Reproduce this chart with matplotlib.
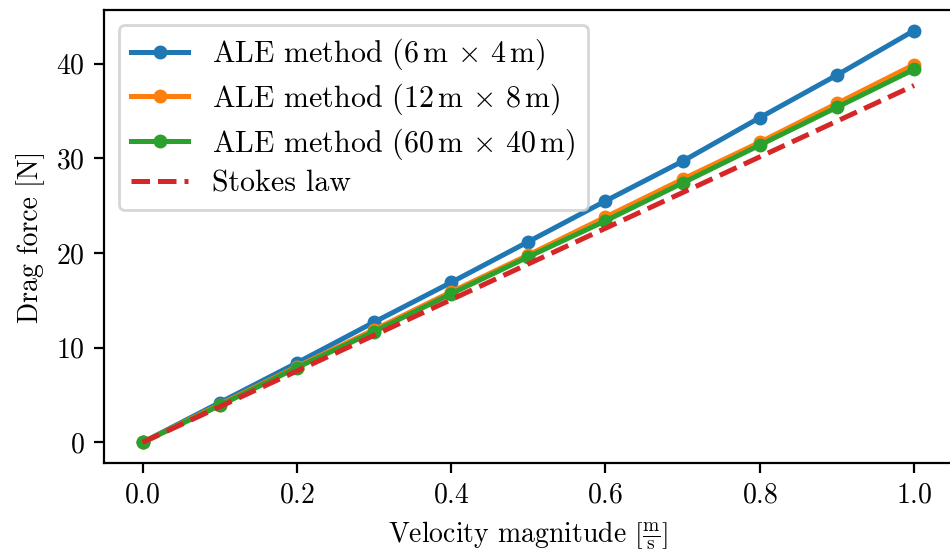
import matplotlib
matplotlib.use("Agg")
import matplotlib.pyplot as plt

plt.rcParams["font.family"] = "serif"
plt.rcParams["font.serif"] = ["cmr10"]
plt.rcParams["mathtext.fontset"] = "cm"
plt.rcParams["axes.formatter.use_mathtext"] = True
plt.rcParams["font.size"] = 10
plt.rcParams["lines.linewidth"] = 1.8

velocity = [0.0, 0.1, 0.2, 0.3, 0.4, 0.5, 0.6, 0.7, 0.8, 0.9, 1.0]
force_small = [0.0, 4.2, 8.4, 12.7, 16.9, 21.2, 25.5, 29.7, 34.3, 38.8, 43.5]
force_medium = [0.0, 4.0, 8.0, 11.9, 15.9, 19.8, 23.8, 27.8, 31.7, 35.8, 39.9]
force_large = [0.0, 3.9, 7.9, 11.7, 15.7, 19.6, 23.4, 27.4, 31.4, 35.4, 39.4]
stokes_v = [0.0, 1.0]
stokes_f = [0.0, 37.7]

fig = plt.figure(figsize=(4.75, 2.79), dpi=200)
# right spine sits just outside the picture in the reference
ax = fig.add_axes([104 / 950, 1 - 463 / 558, 848.6 / 950, 453 / 558])

ax.plot(velocity, force_small, "o-", ms=4,
        label=r"ALE method $(6\,\mathrm{m}\,\times\,4\,\mathrm{m})$")
ax.plot(velocity, force_medium, "o-", ms=4,
        label=r"ALE method $(12\,\mathrm{m}\,\times\,8\,\mathrm{m})$")
ax.plot(velocity, force_large, "o-", ms=4,
        label=r"ALE method $(60\,\mathrm{m}\,\times\,40\,\mathrm{m})$")
ax.plot(stokes_v, stokes_f, "--", label="Stokes law")

ax.set_xlabel(r"Velocity magnitude $\left[\frac{\mathrm{m}}{\mathrm{s}}\right]$")
ax.set_ylabel("Drag force [N]")
ax.legend(loc="upper left", fontsize=10.8, labelspacing=0.3, handlelength=1.9)

fig.savefig("out.png", dpi=200)
